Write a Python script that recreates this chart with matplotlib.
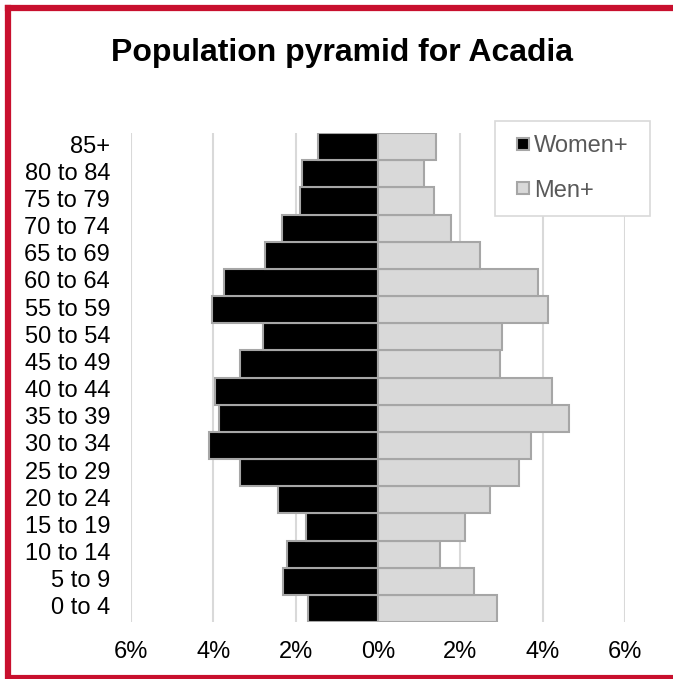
import matplotlib
matplotlib.use("Agg")
import matplotlib.pyplot as plt
from matplotlib.lines import Line2D
import numpy as np

plt.rcParams['font.family'] = ['Liberation Sans', 'DejaVu Sans']

age_groups = ["0 to 4", "5 to 9", "10 to 14", "15 to 19", "20 to 24", "25 to 29",
              "30 to 34", "35 to 39", "40 to 44", "45 to 49", "50 to 54", "55 to 59",
              "60 to 64", "65 to 69", "70 to 74", "75 to 79", "80 to 84", "85+"]
women = [1.69, 2.31, 2.20, 1.75, 2.44, 3.36, 4.11, 3.86, 3.96, 3.36, 2.80, 4.03,
         3.74, 2.74, 2.33, 1.89, 1.84, 1.46]
men = [2.88, 2.32, 1.51, 2.12, 2.72, 3.43, 3.72, 4.64, 4.23, 2.97, 3.02, 4.13,
       3.88, 2.48, 1.77, 1.36, 1.12, 1.41]
xticks = [-6, -4, -2, 0, 2, 4, 6]
xtick_labels = ["6%", "4%", "2%", "0%", "2%", "4%", "6%"]
title = "Population pyramid for Acadia"
series_names = ["Women+", "Men+"]

W, H = 673, 679
fig = plt.figure(figsize=(W / 100, H / 100), dpi=100)
ax = fig.add_axes([131 / W, 1 - 622 / H, (625 - 131) / W, (622 - 133) / H])

y = np.arange(len(age_groups))
edge = "#a6a6a6"
ax.barh(y, [-v for v in women], height=1.0, color="black", edgecolor=edge, linewidth=1.5, zorder=3)
ax.barh(y, men, height=1.0, color="#d9d9d9", edgecolor=edge, linewidth=1.5, zorder=3)

ax.set_xlim(-6, 6)
ax.set_ylim(-0.5, len(age_groups) - 0.5)
ax.set_xticks(xticks)
ax.set_xticklabels(xtick_labels)
ax.set_yticks(y)
ax.set_yticklabels(age_groups)
ax.tick_params(axis='x', length=0, pad=14, labelsize=17, labelcolor="black")
ax.tick_params(axis='y', length=0, pad=15, labelsize=17, labelcolor="black")
for lab in ax.get_yticklabels():
    lab.set_va('center')
ax.grid(axis='x', color="#d9d9d9", linewidth=1.5, zorder=0)
for s in ax.spines.values():
    s.set_visible(False)

fig.text(342 / W, 1 - 61 / H, title, ha='center', va='baseline',
         fontsize=23, fontweight='bold', color='black')

handles = [Line2D([], [], marker='s', linestyle='none', markersize=8.5,
                  markerfacecolor="black", markeredgecolor=edge, markeredgewidth=1.5),
           Line2D([], [], marker='s', linestyle='none', markersize=8.5,
                  markerfacecolor="#d9d9d9", markeredgecolor=edge, markeredgewidth=1.5)]
leg = fig.legend(handles, series_names, loc='upper left',
                 bbox_to_anchor=(495 / W, 1 - 212 / H, 155 / W, 91 / H),
                 bbox_transform=fig.transFigure, mode='expand',
                 fontsize=17, frameon=True, fancybox=False, framealpha=1,
                 edgecolor="#d9d9d9", handlelength=1.14, handleheight=0.7,
                 handletextpad=-0.08, labelspacing=0.95, borderpad=0.6, borderaxespad=0)
for t in leg.get_texts():
    t.set_color("#595959")
leg.get_frame().set_linewidth(1.2)

# red border
red = "#c8102e"
fig.add_artist(plt.Line2D([8 / W, 8 / W], [0, 1 - 8 / H], transform=fig.transFigure, color=red, linewidth=4.5))
fig.add_artist(plt.Line2D([8 / W, 1], [1 - 8 / H, 1 - 8 / H], transform=fig.transFigure, color=red, linewidth=4.5))
fig.add_artist(plt.Line2D([8 / W, 1], [1 - 677 / H, 1 - 677 / H], transform=fig.transFigure, color=red, linewidth=3))

fig.savefig("out.png", dpi=100)
